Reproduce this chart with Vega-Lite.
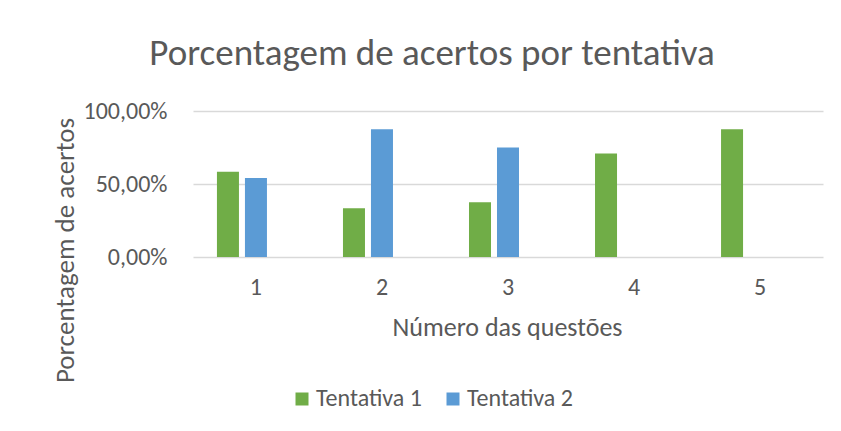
{
  "$schema": "https://vega.github.io/schema/vega-lite/v6.json",
  "autosize": "none",
  "width": 630,
  "height": 146,
  "padding": {"top": 111, "left": 193, "right": 18, "bottom": 174},
  "background": "white",
  "title": {
    "text": "Porcentagem de acertos por tentativa",
    "font": "Carlito, Lato, sans-serif",
    "fontSize": 37,
    "fontWeight": "normal",
    "color": "#595959",
    "anchor": "middle",
    "frame": "group",
    "dx": -76,
    "baseline": "alphabetic",
    "offset": -3
  },
  "data": {
    "values": [
      {"questao": "1", "serie": "Tentativa 1", "acertos": 0.5833},
      {"questao": "1", "serie": "Tentativa 2", "acertos": 0.5417},
      {"questao": "2", "serie": "Tentativa 1", "acertos": 0.3333},
      {"questao": "2", "serie": "Tentativa 2", "acertos": 0.875},
      {"questao": "3", "serie": "Tentativa 1", "acertos": 0.375},
      {"questao": "3", "serie": "Tentativa 2", "acertos": 0.75},
      {"questao": "4", "serie": "Tentativa 1", "acertos": 0.7083},
      {"questao": "5", "serie": "Tentativa 1", "acertos": 0.875}
    ]
  },
  "mark": {"type": "bar"},
  "encoding": {
    "x": {
      "field": "questao",
      "type": "nominal",
      "scale": {"domain": ["1", "2", "3", "4", "5"], "paddingInner": 0.381, "paddingOuter": 0.19},
      "axis": {
        "title": "Número das questões",
        "labelAngle": 0,
        "labelFontSize": 24,
        "labelPadding": 18,
        "ticks": false,
        "domain": false,
        "titleFontSize": 26,
        "titleX": 314,
        "titleY": 70,
        "titleBaseline": "middle",
        "titleAlign": "center"
      }
    },
    "xOffset": {
      "field": "serie",
      "type": "nominal",
      "scale": {"domain": ["Tentativa 1", "Tentativa 2", "Tentativa 3"], "paddingInner": 0.214, "paddingOuter": 0}
    },
    "y": {
      "field": "acertos",
      "type": "quantitative",
      "scale": {"domain": [0, 1], "nice": false},
      "axis": {
        "title": "Porcentagem de acertos",
        "values": [0, 0.5, 1],
        "labelExpr": "replace(format(datum.value, '.2%'), '.', ',')",
        "labelFontSize": 24,
        "labelPadding": 26,
        "ticks": false,
        "domain": false,
        "titleFontSize": 27,
        "titleX": -128,
        "titleY": 139,
        "titleAngle": 270,
        "titleAlign": "center",
        "titleBaseline": "middle"
      }
    },
    "color": {
      "field": "serie",
      "type": "nominal",
      "scale": {"domain": ["Tentativa 1", "Tentativa 2"], "range": ["#70AD47", "#5B9BD5"]},
      "legend": {
        "title": null,
        "orient": "none",
        "direction": "horizontal",
        "legendX": 97,
        "legendY": 276,
        "symbolType": "square",
        "symbolSize": 169,
        "symbolStrokeWidth": 0,
        "labelFontSize": 24,
        "labelOffset": 2,
        "columnPadding": 19
      }
    }
  },
  "config": {
    "font": "Carlito, Lato, sans-serif",
    "view": {"stroke": null},
    "axis": {
      "labelFont": "Carlito, Lato, sans-serif",
      "titleFont": "Carlito, Lato, sans-serif",
      "labelColor": "#595959",
      "titleColor": "#595959",
      "titleFontWeight": "normal",
      "gridColor": "#D9D9D9",
      "gridWidth": 1.5
    },
    "legend": {
      "labelFont": "Carlito, Lato, sans-serif",
      "labelColor": "#595959"
    }
  }
}
